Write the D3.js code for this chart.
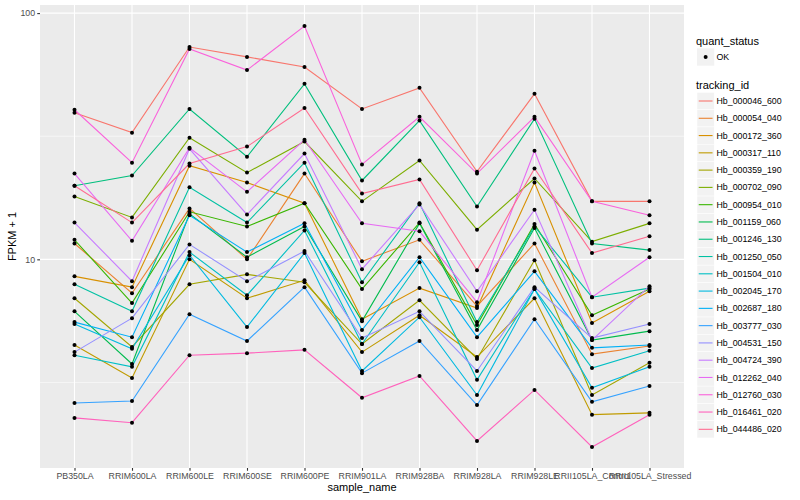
<!DOCTYPE html>
<html>
<head>
<meta charset="utf-8">
<script src="https://cdn.jsdelivr.net/npm/d3@7"></script>
<style>
  body { margin: 0; background: #fff; }
  text { font-family: "Liberation Sans", Arial, sans-serif; }
</style>
</head>
<body>
<div id="chart"></div>
<script>
// sample names on the x axis
const samples = ["PB350LA", "RRIM600LA", "RRIM600LE", "RRIM600SE", "RRIM600PE", "RRIM901LA",
  "RRIM928BA", "RRIM928LA", "RRIM928LE", "RRII105LA_Control", "RRII105LA_Stressed"];

const trackingIds = ["Hb_000046_600", "Hb_000054_040", "Hb_000172_360", "Hb_000317_110", "Hb_000359_190",
  "Hb_000702_090", "Hb_000954_010", "Hb_001159_060", "Hb_001246_130", "Hb_001250_050",
  "Hb_001504_010", "Hb_002045_170", "Hb_002687_180", "Hb_003777_030", "Hb_004531_150",
  "Hb_004724_390", "Hb_012262_040", "Hb_012760_030", "Hb_016461_020", "Hb_044486_020"];

// FPKM + 1, one array per gene, in sample order
const hb_000046_600 = [39.4, 32.7, 72.8, 66.4, 60.4, 40.8, 49.7, 22.7, 47.0, 17.2, 17.2];
const hb_000054_040 = [11.6, 7.28, 16.1, 10.0, 22.3, 9.82, 12.0, 6.46, 11.6, 4.12, 4.45];
const hb_000172_360 = [8.53, 7.71, 24.0, 20.5, 16.9, 5.71, 7.64, 6.34, 20.5, 5.51, 7.42];
const hb_000317_110 = [4.49, 3.30, 10.0, 6.95, 8.22, 4.20, 5.93, 4.01, 6.95, 2.34, 2.38];
const hb_000359_190 = [6.95, 4.41, 7.92, 8.69, 8.07, 4.53, 6.82, 3.94, 9.91, 2.81, 3.80];
const hb_000702_090 = [18.0, 14.8, 31.2, 22.5, 30.1, 17.2, 25.2, 13.2, 21.3, 11.8, 14.0];
const hb_000954_010 = [12.0, 6.64, 15.6, 13.6, 16.9, 7.57, 14.1, 5.41, 13.9, 5.93, 7.57];
const hb_001159_060 = [6.15, 3.76, 15.3, 10.2, 13.6, 5.61, 14.0, 5.16, 13.4, 4.70, 5.11];
const hb_001246_130 = [19.9, 21.9, 40.8, 26.1, 51.6, 20.9, 36.6, 16.4, 37.2, 11.6, 10.9];
const hb_001250_050 = [7.92, 6.15, 19.6, 14.1, 24.7, 8.07, 16.9, 5.56, 13.6, 7.02, 7.64];
const hb_001504_010 = [4.08, 3.66, 10.7, 7.15, 13.1, 4.53, 9.73, 3.24, 7.57, 3.62, 4.25];
const hb_002045_170 = [5.46, 4.33, 10.4, 5.31, 10.6, 3.52, 5.82, 2.81, 7.57, 3.01, 3.66];
const hb_002687_180 = [5.56, 4.83, 15.1, 10.7, 14.0, 5.16, 10.2, 4.83, 8.94, 4.37, 4.49];
const hb_003777_030 = [2.61, 2.66, 5.98, 4.66, 7.71, 3.45, 4.66, 2.56, 5.71, 2.64, 3.06];
const hb_004531_150 = [4.20, 5.77, 11.5, 8.15, 10.8, 4.79, 6.15, 3.52, 7.71, 4.79, 5.46];
const hb_004724_390 = [14.1, 8.15, 28.1, 15.2, 26.9, 9.12, 16.7, 7.42, 15.9, 4.70, 7.78];
const hb_012262_040 = [22.3, 11.9, 28.4, 18.8, 30.6, 14.0, 13.0, 6.70, 27.6, 7.02, 10.2];
const hb_012760_030 = [40.5, 24.7, 71.5, 58.7, 88.6, 24.3, 37.9, 22.3, 37.9, 17.2, 15.1];
const hb_016461_020 = [2.27, 2.17, 4.08, 4.16, 4.29, 2.74, 3.36, 1.83, 2.95, 1.73, 2.34];
const hb_044486_020 = [19.9, 14.1, 24.5, 28.7, 41.2, 18.5, 21.1, 9.03, 23.4, 10.6, 12.4];

const yMajor = [10, 100];
const yMinor = [3.162, 31.62];

// ggplot hue palette for 20 levels
const colors = ["#F8766D", "#EA8331", "#D89000", "#C09B00", "#A3A500", "#7CAE00", "#39B600", "#00BB4E",
  "#00BF7D", "#00C1A3", "#00BFC4", "#00BAE0", "#00B0F6", "#35A2FF", "#9590FF", "#C77CFF",
  "#E76BF3", "#FA62DB", "#FF62BC", "#FF6C91"];

const values = [hb_000046_600, hb_000054_040, hb_000172_360, hb_000317_110, hb_000359_190,
  hb_000702_090, hb_000954_010, hb_001159_060, hb_001246_130, hb_001250_050,
  hb_001504_010, hb_002045_170, hb_002687_180, hb_003777_030, hb_004531_150,
  hb_004724_390, hb_012262_040, hb_012760_030, hb_016461_020, hb_044486_020];

const series = trackingIds.map((id, i) => ({
  id: id,
  color: colors[i],
  points: samples.map((s, j) => ({ sample: s, value: values[i][j] }))
}));

const width = 800, height = 500;
const panel = { left: 40, right: 684, top: 5, bottom: 468 };

const svg = d3.select("#chart").append("svg")
  .attr("width", width)
  .attr("height", height)
  .style("background", "#fff");

const x = d3.scalePoint().domain(samples).range([panel.left, panel.right]).padding(0.6);

// log scale with 5% expansion in log space, like ggplot
const all = values.flat();
const lmin = Math.log10(d3.min(all)), lmax = Math.log10(d3.max(all));
const pad = (lmax - lmin) * 0.05;
const y = d3.scaleLog()
  .domain([Math.pow(10, lmin - pad), Math.pow(10, lmax + pad)])
  .range([panel.bottom, panel.top]);

// panel background + grid
svg.append("rect")
  .attr("x", panel.left).attr("y", panel.top)
  .attr("width", panel.right - panel.left).attr("height", panel.bottom - panel.top)
  .attr("fill", "#EBEBEB");

svg.append("g").selectAll("line")
  .data(yMinor).enter().append("line")
  .attr("x1", panel.left).attr("x2", panel.right)
  .attr("y1", d => y(d)).attr("y2", d => y(d))
  .attr("stroke", "#fff").attr("stroke-width", 0.55);

svg.append("g").selectAll("line")
  .data(yMajor).enter().append("line")
  .attr("x1", panel.left).attr("x2", panel.right)
  .attr("y1", d => y(d)).attr("y2", d => y(d))
  .attr("stroke", "#fff").attr("stroke-width", 1.1);

svg.append("g").selectAll("line")
  .data(samples).enter().append("line")
  .attr("x1", d => x(d)).attr("x2", d => x(d))
  .attr("y1", panel.top).attr("y2", panel.bottom)
  .attr("stroke", "#fff").attr("stroke-width", 1.1);

// lines
const line = d3.line()
  .x(d => x(d.sample))
  .y(d => y(d.value));

svg.append("g").selectAll("path")
  .data(series).enter().append("path")
  .attr("d", d => line(d.points))
  .attr("fill", "none")
  .attr("stroke", d => d.color)
  .attr("stroke-width", 1.1);

// points on top
svg.append("g").selectAll("circle")
  .data(series.flatMap(s => s.points)).enter().append("circle")
  .attr("cx", d => x(d.sample))
  .attr("cy", d => y(d.value))
  .attr("r", 2)
  .attr("fill", "#000");

// axes
const xAxis = svg.append("g")
  .attr("transform", `translate(0,${panel.bottom})`)
  .call(d3.axisBottom(x).tickSize(2.75).tickPadding(2.5));
const yAxis = svg.append("g")
  .attr("transform", `translate(${panel.left},0)`)
  .call(d3.axisLeft(y).tickValues(yMajor).tickFormat(d3.format("d")).tickSize(2.75).tickPadding(2.2));

[xAxis, yAxis].forEach(g => {
  g.select(".domain").remove();
  g.selectAll(".tick line").attr("stroke", "#333333").attr("stroke-width", 1.1);
  g.selectAll(".tick text")
    .attr("fill", "#4D4D4D")
    .style("font-size", "8.8px")
    .style("font-family", "'Liberation Sans', Arial, sans-serif");
});

svg.append("text")
  .attr("x", (panel.left + panel.right) / 2)
  .attr("y", 491)
  .attr("text-anchor", "middle")
  .style("font-size", "11px")
  .text("sample_name");

svg.append("text")
  .attr("transform", `translate(16,${(panel.top + panel.bottom) / 2}) rotate(-90)`)
  .attr("text-anchor", "middle")
  .style("font-size", "11px")
  .text("FPKM + 1");

// legends
const keySize = 17.28, keyX = 697, labelX = 716.5;

svg.append("text").attr("x", 696).attr("y", 44.5)
  .style("font-size", "11px").text("quant_status");
svg.append("rect").attr("x", keyX).attr("y", 57 - keySize / 2)
  .attr("width", keySize).attr("height", keySize).attr("fill", "#F2F2F2");
svg.append("circle").attr("cx", keyX + keySize / 2).attr("cy", 57).attr("r", 2).attr("fill", "#000");
svg.append("text").attr("x", labelX).attr("y", 57).attr("dy", "0.35em")
  .style("font-size", "8.8px").text("OK");

svg.append("text").attr("x", 696).attr("y", 89)
  .style("font-size", "11px").text("tracking_id");

const legend = svg.append("g").selectAll("g")
  .data(series).enter().append("g")
  .attr("transform", (d, i) => `translate(${keyX},${101 + i * keySize})`);

legend.append("rect")
  .attr("y", -keySize / 2)
  .attr("width", keySize).attr("height", keySize)
  .attr("fill", "#F2F2F2").attr("stroke", "#fff").attr("stroke-width", 0.5);

legend.append("line")
  .attr("x1", keySize * 0.1).attr("x2", keySize * 0.9)
  .attr("stroke", d => d.color).attr("stroke-width", 1.1);

legend.append("text")
  .attr("x", labelX - keyX).attr("dy", "0.35em")
  .style("font-size", "8.8px")
  .text(d => d.id);
</script>
</body>
</html>
